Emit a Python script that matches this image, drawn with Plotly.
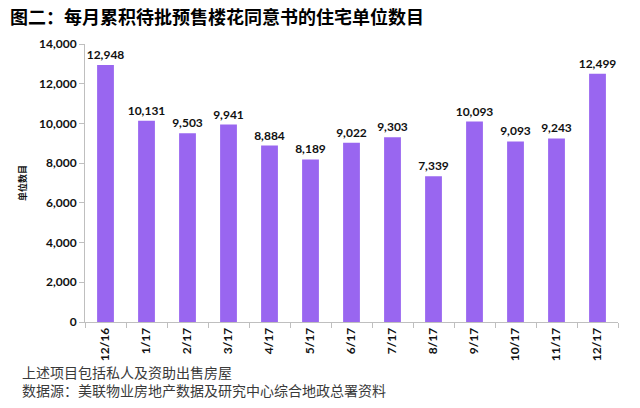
import plotly.graph_objects as go

months = ["12/16", "1/17", "2/17", "3/17", "4/17", "5/17", "6/17", "7/17", "8/17", "9/17", "10/17", "11/17", "12/17"]
units = [12948, 10131, 9503, 9941, 8884, 8189, 9022, 9303, 7339, 10093, 9093, 9243, 12499]
yticks = [0, 2000, 4000, 6000, 8000, 10000, 12000, 14000]

title = "图二：每月累积待批预售楼花同意书的住宅单位数目"
ytitle = "单位数目"
notes = ["上述项目包括私人及资助出售房屋", "数据源：美联物业房地产数据及研究中心综合地政总署资料"]

L, R, T, B = 85, 22, 44, 86
W, H = 640, 408
PW, PH = W - L - R, H - T - B

fig = go.Figure(go.Bar(
    x=months, y=units,
    marker=dict(color="#9966F0", line=dict(width=0)),
    text=[f"{v:,}" for v in units],
    textposition="outside",
    constraintext="none",
    cliponaxis=False,
    textfont=dict(family="Lato, DejaVu Sans, sans-serif", size=12, color="#111111", weight="bold"),
))

fig.update_layout(
    width=W, height=H,
    margin=dict(l=L, r=R, t=T, b=B),
    paper_bgcolor="white", plot_bgcolor="white",
    bargap=0.59,
    showlegend=False,
    font=dict(family="Lato, DejaVu Sans, sans-serif", color="#111111"),
)
fig.update_xaxes(
    type="category",
    tickangle=-90,
    tickson="boundaries",
    ticks="outside", ticklen=5, tickcolor="#BFBFBF",
    showline=True, linecolor="#BFBFBF", linewidth=1,
    showgrid=False,
    tickfont=dict(family="Lato, DejaVu Sans, sans-serif", size=12, color="#111111", weight="bold"),
)
fig.update_yaxes(
    range=[0, 14000],
    tickvals=yticks,
    ticktext=[f"{v:,}" for v in yticks],
    ticks="outside", ticklen=5, tickcolor="#BFBFBF",
    showline=True, linecolor="#BFBFBF", linewidth=1,
    showgrid=False, zeroline=False,
    tickfont=dict(family="Lato, DejaVu Sans, sans-serif", size=12, color="#111111", weight="bold"),
    title=dict(text=ytitle, font=dict(family="Noto Sans CJK SC", size=9, color="#111111", weight="bold"), standoff=10),
)

def px_x(x):
    return (x - L) / PW

def px_y(y):
    return (T + PH - y) / PH

fig.add_annotation(text=title, xref="paper", yref="paper", x=px_x(8), y=px_y(1),
                   xanchor="left", yanchor="top", showarrow=False,
                   font=dict(family="Noto Sans CJK SC", size=18, color="#000000", weight="bold"))
fig.add_annotation(text="<br>".join(notes), xref="paper", yref="paper", x=px_x(20), y=px_y(381),
                   xanchor="left", yanchor="middle", align="left", showarrow=False,
                   font=dict(family="Noto Sans CJK SC", size=14, color="#3a3a3a"))

fig.write_html("out.html")
